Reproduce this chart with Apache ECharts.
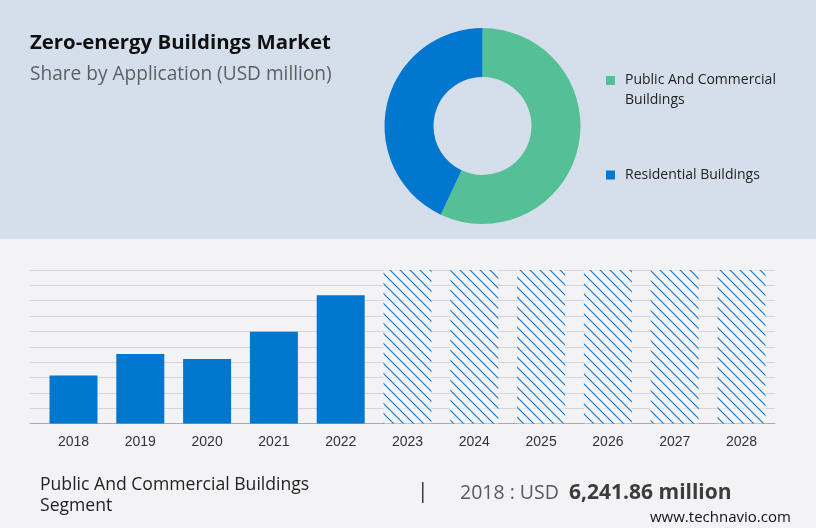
<!DOCTYPE html>
<html><head><meta charset="utf-8">
<style>html,body{margin:0;padding:0;background:#f3f3f6}#c{width:816px;height:528px}</style>
<script src="https://cdn.jsdelivr.net/npm/echarts@6/dist/echarts.min.js"></script>
</head><body><div id="c"></div>
<script>
const years = ['2018','2019','2020','2021','2022','2023','2024','2025','2026','2027','2028'];
const actualValues = [6241.86, 9050, 8400, 11950, 16700, null, null, null, null, null, null];
const forecastValues = [null, null, null, null, null, 20000, 20000, 20000, 20000, 20000, 20000];
const shareNames = ['Public And Commercial Buildings', 'Residential Buildings'];
const shareValues = [57, 43];
const GREEN = '#55bf95', BLUE = '#0277cf';

const tile = document.createElement('canvas');
tile.width = 10; tile.height = 10;
const g = tile.getContext('2d');
g.fillStyle = 'rgba(246,247,250,0.6)'; g.fillRect(0,0,10,10);
g.strokeStyle = '#1179d0'; g.lineWidth = 1.2;
[[-5,-5,15,15],[-15,-5,5,15],[5,-5,25,15]].forEach(l=>{g.beginPath();g.moveTo(l[0],l[1]);g.lineTo(l[2],l[3]);g.stroke();});

const font = '"Open Sans", "Noto Sans", sans-serif';
const legendText = {fontFamily:font,fontSize:14,color:'#222',lineHeight:20,
  rich:{t:{fontFamily:font,fontSize:14,color:'#222',lineHeight:20,padding:[0,0,0,5]}}};
const chart = echarts.init(document.getElementById('c'), null, {renderer:'canvas'});
chart.setOption({
  animation:false,
  backgroundColor:'#f3f3f6',
  graphic:[
    {type:'rect',z:-10,silent:true,shape:{x:0,y:0,width:816,height:239},style:{fill:'#d5dfeb'}},
    {type:'text',left:30,top:33,style:{text:'Zero-energy Buildings Market',font:'bold 20.4px '+font,fill:'#111'}},
    {type:'text',left:30,top:65,style:{text:'Share by Application (USD million)',font:'19.1px '+font,fill:'#5b6066'}},
    {type:'text',left:40,top:474,style:{text:'Public And Commercial Buildings\nSegment',font:'17.6px '+font,fill:'#222',lineHeight:21}},
    {type:'text',left:417,top:482,style:{text:'|',font:'21px '+font,fill:'#333'}},
    {type:'text',left:460,top:483,style:{
      text:'{a|2018 : USD  }{b|6,241.86 million}',
      rich:{a:{fontFamily:font,fontSize:19.5,fill:'#5a5a5a'},b:{fontFamily:font,fontSize:21,fontWeight:'bold',fill:'#3c3c3c'}}}},
    {type:'text',left:650,top:510,style:{text:'www.technavio.com',font:'15px '+font,fill:'#111'}}
  ],
  legend:[
    {left:606,top:50.5,padding:0,orient:'vertical',itemWidth:9,itemHeight:9,icon:'rect',
     data:[shareNames[0]],selectedMode:false,
     formatter:()=>'\n{t|Public And Commercial}\n{t|Buildings}',
     textStyle:legendText},
    {left:606,top:165,padding:0,orient:'vertical',itemWidth:9,itemHeight:9,icon:'rect',
     data:[shareNames[1]],selectedMode:false,
     formatter:n=>'{t|'+n+'}',
     textStyle:legendText}
  ],
  grid:[
    {left:30,right:41,top:270,bottom:104.5},
    {left:40.1,right:41.1,top:270,bottom:104.5}
  ],
  xAxis:[
    {type:'category',gridIndex:0,data:years,axisLine:{lineStyle:{color:'#a9abb0',width:1}},axisTick:{show:false},axisLabel:{show:false}},
    {type:'category',gridIndex:1,data:years,axisLine:{show:false},axisTick:{show:false},
     axisLabel:{fontFamily:'"Liberation Sans", Arial, sans-serif',fontSize:14,color:'#333',margin:12}}
  ],
  yAxis:[
    {type:'value',gridIndex:0,min:0,max:20000,interval:2000,axisLabel:{show:false},axisLine:{show:false},axisTick:{show:false},
     splitLine:{lineStyle:{color:'#d3d5db',width:1}}},
    {type:'value',gridIndex:1,min:0,max:20000,interval:2000,axisLabel:{show:false},axisLine:{show:false},axisTick:{show:false},splitLine:{show:false}}
  ],
  series:[
    {type:'bar',name:'Actual',xAxisIndex:1,yAxisIndex:1,data:actualValues,barGap:'-100%',barWidth:48,
     itemStyle:{color:BLUE}},
    {type:'bar',name:'Forecast',xAxisIndex:1,yAxisIndex:1,data:forecastValues,barWidth:48,
     itemStyle:{color:{image:tile,repeat:'repeat'}}},
    {type:'pie',radius:[49,98],center:[482.5,126],startAngle:90,clockwise:true,
     label:{show:false},labelLine:{show:false},silent:true,
     data:shareNames.map((n,i)=>({name:n,value:shareValues[i],itemStyle:{color:[GREEN,BLUE][i]}}))}
  ]
});
</script></body></html>
